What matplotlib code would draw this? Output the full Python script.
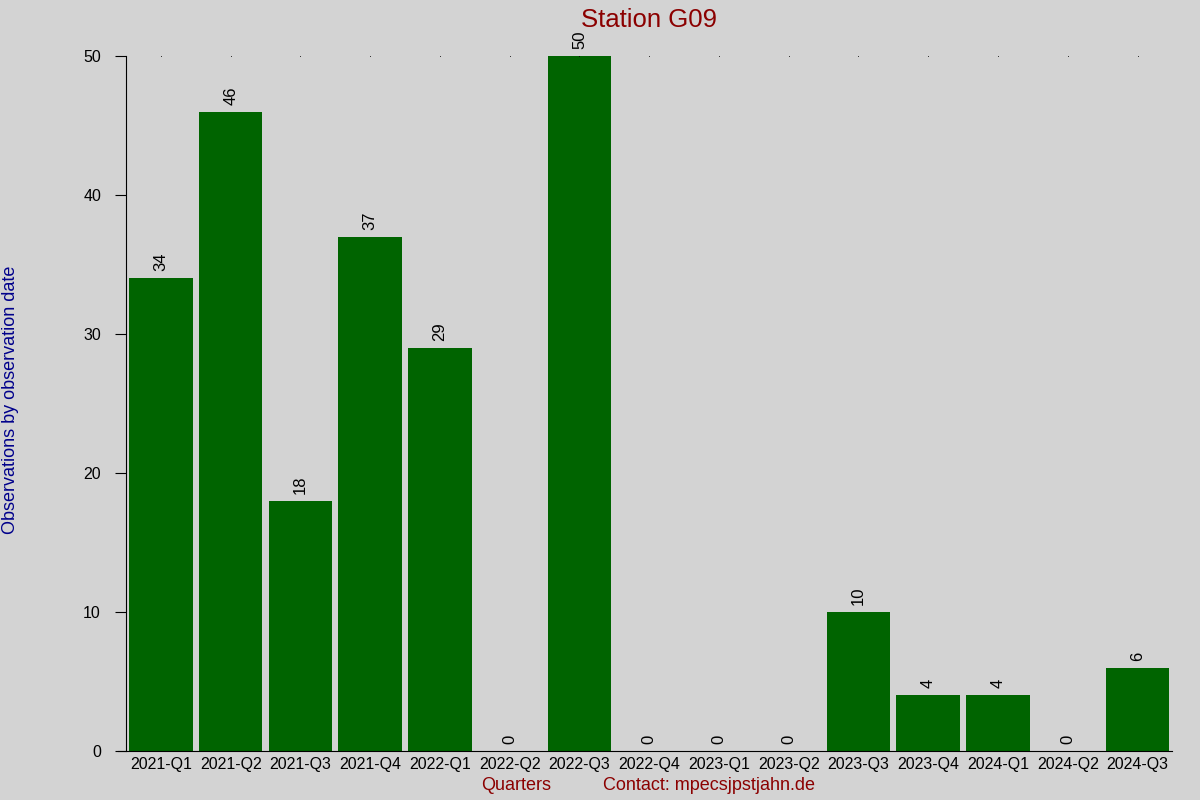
import matplotlib.pyplot as plt

quarters = ['2021-Q1', '2021-Q2', '2021-Q3', '2021-Q4', '2022-Q1', '2022-Q2', '2022-Q3',
            '2022-Q4', '2023-Q1', '2023-Q2', '2023-Q3', '2023-Q4', '2024-Q1', '2024-Q2', '2024-Q3']
counts = [34, 46, 18, 37, 29, 0, 50, 0, 0, 0, 10, 4, 4, 0, 6]

plt.rcParams['font.family'] = ['Liberation Sans', 'DejaVu Sans']

fig = plt.figure(figsize=(12, 8), dpi=100, facecolor='lightgray')
ax = fig.add_axes([0.105, 0.06125, 0.872, 0.86875])
ax.set_facecolor('lightgray')

x = list(range(len(quarters)))
ax.bar(x, counts, width=0.91, color='darkgreen')

# tiny dots along the top line
ax.plot(x, [max(counts)] * len(x), linestyle='none', marker='s', ms=0.5, mew=0, color='black')

for xi, v in zip(x, counts):
    ax.annotate(str(v), (xi, v), xytext=(0, 5), textcoords='offset points',
                rotation=90, ha='center', va='bottom', fontsize=12)

ax.set_xlim(-0.5, len(quarters) - 0.5)
ax.set_ylim(0, 50)
ax.set_yticks([0, 10, 20, 30, 40, 50])
ax.set_xticks(x)
ax.set_xticklabels(quarters, fontsize=11.5)
ax.tick_params(axis='x', length=0, pad=4)
ax.tick_params(axis='y', length=8, labelsize=11.5, pad=10)

for s in ['top', 'right']:
    ax.spines[s].set_visible(False)
ax.spines['bottom'].set_bounds(-0.615, len(quarters) - 0.5)

fig.text(0.541, 0.975, 'Station G09', color='darkred', fontsize=18.5, ha='center', va='center')
fig.text(0.43, 0.018, 'Quarters', color='darkred', fontsize=13, ha='center', va='center')
fig.text(0.5025, 0.018, 'Contact: mpecsjpstjahn.de', color='darkred', fontsize=13, ha='left', va='center')
fig.text(0.009, 0.5, 'Observations by observation date', color='darkblue', fontsize=13,
         rotation=90, ha='center', va='center')

fig.savefig('out.png', dpi=100, facecolor='lightgray')
